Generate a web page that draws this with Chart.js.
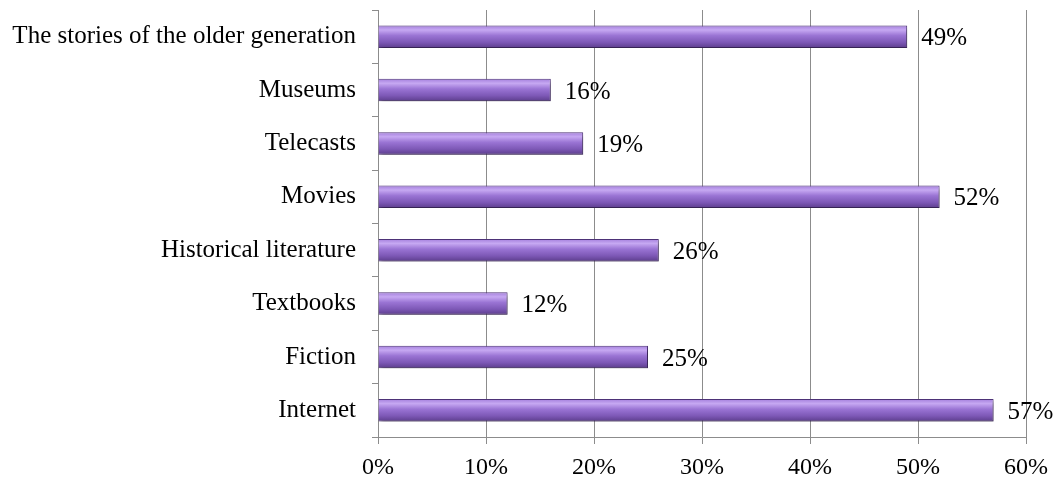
<!DOCTYPE html>
<html>
<head>
<meta charset="utf-8">
<script src="https://cdn.jsdelivr.net/npm/chart.js@4/dist/chart.umd.min.js"></script>
<style>
  html, body { margin: 0; padding: 0; background: #fff; }
  #wrap { width: 1063px; height: 481px; position: relative; }
</style>
</head>
<body>
<div id="wrap"><canvas id="chart"></canvas></div>
<script>
// --- data ---
const categories = [
    'The stories of the older generation',
    'Museums',
    'Telecasts',
    'Movies',
    'Historical literature',
    'Textbooks',
    'Fiction',
    'Internet'
];
const shares = [49, 16, 19, 52, 26, 12, 25, 57];
const xTicks = [0, 10, 20, 30, 40, 50, 60];

const FONT = "'Liberation Serif', 'Times New Roman', serif";
const GRID = '#8c8c8c';
const BAR_PCT = 0.42;

// gradient for the "cylinder" look of each bar
function barFill(ctx) {
    const chart = ctx.chart;
    const y = chart.scales && chart.scales.y;
    const fallback = '#8e66c6';
    if (!y || ctx.dataIndex === undefined) return fallback;
    const center = y.getPixelForValue(ctx.dataIndex);
    const band = (y.bottom - y.top) / categories.length;
    const h = band * BAR_PCT;
    if (!isFinite(center) || !isFinite(h) || h <= 0) return fallback;
    const g = chart.ctx.createLinearGradient(0, center - h / 2, 0, center + h / 2);
    g.addColorStop(0, '#a47fdc');
    g.addColorStop(0.2, '#c6a8f2');
    g.addColorStop(0.45, '#9a74d4');
    g.addColorStop(0.75, '#7d58b6');
    g.addColorStop(1, '#5c3d8c');
    return g;
}

// shadow under bars + value labels
const barExtras = {
    id: 'barExtras',
    beforeDatasetsDraw(chart) {
        const c = chart.ctx;
        c.save();
        c.shadowColor = 'rgba(0,0,0,0.35)';
        c.shadowOffsetX = 2;
        c.shadowOffsetY = 3;
        c.shadowBlur = 4;
    },
    afterDatasetsDraw(chart) {
        const c = chart.ctx;
        c.restore();
        const meta = chart.getDatasetMeta(0);
        c.save();
        c.font = '25px ' + FONT;
        c.fillStyle = '#000';
        c.textAlign = 'left';
        c.textBaseline = 'middle';
        meta.data.forEach((bar, i) => {
            c.fillText(shares[i] + '%', bar.x + 14, bar.y + 2);
        });
        c.restore();
    }
};

new Chart(document.getElementById('chart'), {
    type: 'bar',
    data: {
        labels: categories,
        datasets: [{
            data: shares,
            backgroundColor: barFill,
            borderColor: '#4e3379',
            borderWidth: 1,
            borderSkipped: 'start',
            categoryPercentage: 1,
            barPercentage: BAR_PCT
        }]
    },
    options: {
        indexAxis: 'y',
        responsive: true,
        maintainAspectRatio: false,
        animation: false,
        layout: { padding: { top: 10, right: 37, left: 0, bottom: 0 } },
        plugins: {
            legend: { display: false },
            tooltip: { enabled: false }
        },
        scales: {
            x: {
                min: 0,
                max: 60,
                afterBuildTicks(axis) {
                    axis.ticks = xTicks.map(v => ({ value: v }));
                },
                afterFit(axis) {
                    axis.height = 44;
                    axis.paddingLeft = 0;
                    axis.paddingRight = 0;
                },
                border: { display: true, color: GRID, width: 1 },
                grid: { color: GRID, lineWidth: 1, drawTicks: true, tickLength: 7, tickColor: GRID },
                ticks: {
                    color: '#000',
                    padding: 9,
                    font: { family: FONT, size: 24 },
                    callback: v => v + '%'
                }
            },
            y: {
                afterFit(axis) {
                    axis.width = 378;
                    axis.paddingTop = 0;
                    axis.paddingBottom = 0;
                },
                border: { display: true, color: GRID, width: 1 },
                grid: { drawOnChartArea: false, drawTicks: true, tickLength: 6, tickColor: GRID, offset: true },
                ticks: {
                    color: '#000',
                    padding: 16,
                    font: { family: FONT, size: 25 }
                }
            }
        }
    },
    plugins: [barExtras]
});
</script>
</body>
</html>
